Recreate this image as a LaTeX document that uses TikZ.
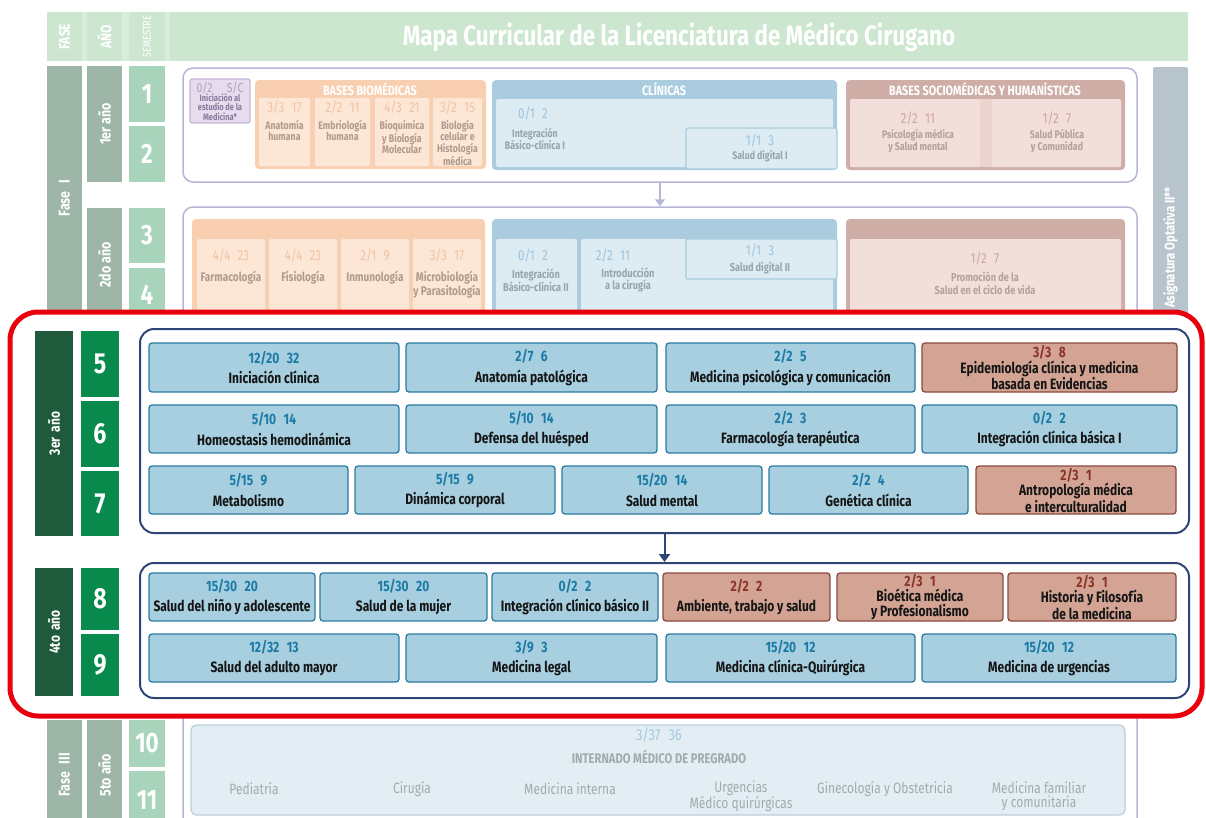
\documentclass[tikz,border=0pt]{standalone}
\usepackage{fontspec}
\setmainfont{Fira Sans}[FakeStretch=0.8]
\usetikzlibrary{arrows.meta}
\definecolor{hdrC}{HTML}{CCE6CF}
\definecolor{hdrL}{HTML}{D8EDDA}
\definecolor{faseC}{HTML}{9DB6A8}
\definecolor{semL}{HTML}{A7D4BA}
\definecolor{lav}{HTML}{B6B6D7}
\definecolor{oHd}{HTML}{F8D0B1}
\definecolor{oIn}{HTML}{FCE6D6}
\definecolor{oNum}{HTML}{F2C3A3}
\definecolor{oTxt}{HTML}{B09A8C}
\definecolor{cHd}{HTML}{AACCDE}
\definecolor{cIn}{HTML}{DDEBF3}
\definecolor{cNum}{HTML}{9DC4DC}
\definecolor{cTxt}{HTML}{95A4AE}
\definecolor{sHd}{HTML}{CEAEA7}
\definecolor{sMid}{HTML}{EDD3CE}
\definecolor{sIn}{HTML}{F2DEDA}
\definecolor{sNum}{HTML}{CEA79F}
\definecolor{sTxt}{HTML}{B5A09B}
\definecolor{pFill}{HTML}{E6DCEE}
\definecolor{pBord}{HTML}{C6B6D9}
\definecolor{pNum}{HTML}{AE9EC6}
\definecolor{pTxt}{HTML}{8A7A9C}
\definecolor{optC}{HTML}{B8C4CC}
\definecolor{redC}{HTML}{E8000C}
\definecolor{navy}{HTML}{2E4677}
\definecolor{dkG}{HTML}{1F5A3D}
\definecolor{semG}{HTML}{078A4C}
\definecolor{bFill}{HTML}{A7CFDF}
\definecolor{bBord}{HTML}{2B7CA0}
\definecolor{bNum}{HTML}{1B7BA6}
\definecolor{rFill}{HTML}{D3A494}
\definecolor{rBord}{HTML}{8C4A3F}
\definecolor{rNum}{HTML}{8A3328}
\definecolor{iFill}{HTML}{E2EEF3}
\definecolor{iBord}{HTML}{BACEDA}
\definecolor{iNum}{HTML}{A6CAE0}
\definecolor{iTxt}{HTML}{A2AAB0}
\definecolor{txt}{HTML}{151515}
\newcommand\bx[7]{\node[#2,minimum width={#5-#3},minimum height={#6-#4}] (#1) at ({(#3+#5)/2},{(#4+#6)/2}) {#7};}
\newcommand\vbx[7]{\node[#2,rotate=90,minimum width={#6-#4},minimum height={#5-#3}] (#1) at ({(#3+#5)/2},{(#4+#6)/2}) {#7};}
\newcommand\gp{\hspace{0.5em}}
\newcommand\nb[1]{\textcolor{bNum}{#1}}
\newcommand\nr[1]{\textcolor{rNum}{#1}}
\begin{document}
\begin{tikzpicture}[x=1pt,y=-1pt,
  hdrCol/.style={fill=hdrC,inner sep=0pt,text=white,font=\fontsize{15}{15}\selectfont\bfseries},
  hdrBand/.style={fill=hdrL,inner sep=0pt},
  faseBar/.style={fill=faseC,inner sep=0pt,text=white,font=\fontsize{15.5}{15.5}\selectfont\bfseries},
  semLt/.style={fill=semL,inner sep=0pt,text=white,font=\fontsize{28}{28}\selectfont\bfseries},
  blkL/.style={draw=lav,line width=1.5pt,rounded corners=10pt,inner sep=0pt},
  grp/.style={rounded corners=4pt,inner sep=0pt},
  sub/.style={rounded corners=2pt,inner sep=0pt},
  subB/.style={draw=cHd,fill=cIn,line width=1.2pt,rounded corners=2pt,inner sep=0pt},
  purp/.style={draw=pBord,fill=pFill,line width=1.2pt,rounded corners=2pt,inner sep=0pt},
  ghd/.style={inner sep=0pt,text=white,font=\fontsize{13.5}{13.5}\selectfont\bfseries},
  fnum/.style={inner sep=0pt,font=\fontsize{14.5}{14.5}\selectfont},
  ftxt/.style={inner sep=0pt,align=center,font=\fontsize{11}{11.5}\selectfont\bfseries},
  optBar/.style={fill=optC,rounded corners=2pt,inner sep=0pt,text=white,font=\fontsize{14}{14}\selectfont\bfseries},
  arrL/.style={draw=lav,line width=1.5pt,-{Triangle[width=10pt,length=7pt]}},
  intBox/.style={draw=iBord,fill=iFill,line width=1.2pt,rounded corners=6pt,inner sep=0pt},
  redFrame/.style={draw=redC,fill=white,line width=5pt,rounded corners=28pt,inner sep=0pt},
  dkBar/.style={fill=dkG,inner sep=0pt,text=white,font=\fontsize{15}{15}\selectfont\bfseries},
  semD/.style={fill=semG,inner sep=0pt,text=white,font=\fontsize{29}{29}\selectfont\bfseries},
  blkD/.style={draw=navy,line width=2pt,rounded corners=14pt,inner sep=0pt},
  arrD/.style={draw=navy,line width=2pt,-{Triangle[width=11pt,length=8pt]}},
  cb/.style={draw=bBord,fill=bFill,line width=1.3pt,rounded corners=3pt,inner sep=0pt,align=center,text=txt,font=\fontsize{15}{14.5}\selectfont\bfseries},
  cr/.style={cb,draw=rBord,fill=rFill}]
\useasboundingbox (0,0) rectangle (1206,817);
% ---------- header ----------
\bx{hBand}{hdrBand}{47}{12}{1188}{61}{}
\vbx{hFase}{hdrCol}{47}{12}{82}{61}{FASE}
\vbx{hAno}{hdrCol}{87}{12}{122}{61}{AÑO}
\vbx{hSem}{hdrCol,font=\fontsize{11.5}{11.5}\selectfont}{129}{12}{165}{61}{SEMESTRE}
\bx{hTitle}{hdrCol,font=\fontsize{28}{28}\selectfont\bfseries}{170}{12}{1188}{61}{Mapa Curricular de la Licenciatura de Médico Cirugano}
% ---------- left bars (faded) ----------
\vbx{fase1}{faseBar}{47}{66}{82}{330}{Fase\enspace I}
\vbx{ano1}{faseBar}{87}{66}{122}{182}{1er año}
\bx{s1}{semLt}{129}{66}{165}{122}{1}
\bx{s2}{semLt}{129}{126}{165}{182}{2}
\vbx{ano2}{faseBar}{87}{208}{122}{322}{2do año}
\bx{s3}{semLt}{129}{208}{165}{263}{3}
\bx{s4}{semLt}{129}{268}{165}{322}{4}
\vbx{opt}{optBar}{1153}{67}{1188}{428}{Asignatura Optativa II**}
% ---------- block 1 ----------
\bx{blk1}{blkL}{183}{68}{1137}{182}{}
\bx{pIni}{purp}{190}{79}{250}{123}{}
\node[fnum,text=pNum,font=\fontsize{13}{13}\selectfont] (pIniN) at (220,88) {0/2\hspace{1.1em}S/C};
\node[ftxt,text=pTxt,font=\fontsize{9.3}{9.5}\selectfont\bfseries] (pIniT) at (220,107) {Iniciación al\\estudio de la\\Medicina*};
\bx{gO1}{grp,fill=oHd}{255}{80}{486}{169}{}
\node[ghd] (gO1h) at (370,89) {BASES BIOMÉDICAS};
\bx{o1a}{sub,fill=oIn}{259}{98}{310}{166}{}
\bx{o1b}{sub,fill=oIn}{315}{98}{370}{166}{}
\bx{o1c}{sub,fill=oIn}{375}{98}{429}{166}{}
\bx{o1d}{sub,fill=oIn}{433}{98}{482}{166}{}
\node[fnum,text=oNum] (o1aN) at (284.5,107) {3/3\gp17};
\node[fnum,text=oNum] (o1bN) at (342.5,107) {2/2\gp11};
\node[fnum,text=oNum] (o1cN) at (402,107) {4/3\gp21};
\node[fnum,text=oNum] (o1dN) at (457.5,107) {3/2\gp15};
\node[ftxt,text=oTxt,anchor=north] (o1aT) at (284.5,120) {Anatomía\\humana};
\node[ftxt,text=oTxt,anchor=north] (o1bT) at (342.5,120) {Embriología\\humana};
\node[ftxt,text=oTxt,anchor=north] (o1cT) at (402,120) {Bioquímica\\y Biología\\Molecular};
\node[ftxt,text=oTxt,anchor=north] (o1dT) at (457.5,120) {Biología\\celular e\\Histología\\médica};
\bx{gC1}{grp,fill=cHd}{492}{80}{837}{170}{}
\node[ghd] (gC1h) at (664,89) {CLÍNICAS};
\bx{c1in}{sub,fill=cIn}{496}{99}{833}{167}{}
\bx{c1sd}{subB}{686}{128}{837}{169}{}
\node[fnum,text=cNum] (c1aN) at (533,113) {0/1\gp2};
\node[ftxt,text=cTxt] (c1aT) at (535,139) {Integración\\Básico-clínica I};
\node[fnum,text=cNum] (c1bN) at (760,140) {1/1\gp3};
\node[ftxt,text=cTxt] (c1bT) at (760,156) {Salud digital I};
\bx{gS1}{grp,fill=sHd}{846}{80}{1125}{170}{}
\node[ghd] (gS1h) at (985,89) {BASES SOCIOMÉDICAS Y HUMANÍSTICAS};
\bx{s1in}{sub,fill=sMid}{850}{99}{1121}{167}{}
\bx{s1a}{sub,fill=sIn}{850}{99}{980}{167}{}
\bx{s1b}{sub,fill=sIn}{992}{99}{1121}{167}{}
\node[fnum,text=sNum] (s1aN) at (918,118) {2/2\gp11};
\node[ftxt,text=sTxt] (s1aT) at (918,141) {Psicología médica\\y Salud mental};
\node[fnum,text=sNum] (s1bN) at (1057,118) {1/2\gp7};
\node[ftxt,text=sTxt] (s1bT) at (1057,141) {Salud Pública\\y Comunidad};
% ---------- block 2 ----------
\bx{blk2}{blkL}{183}{207}{1137}{340}{}
\draw[arrL] (blk1.south) -- (blk2.north);
\bx{gO2}{grp,fill=oHd}{192}{219}{485}{340}{}
\bx{o2a}{sub,fill=oIn}{197}{239}{265}{340}{}
\bx{o2b}{sub,fill=oIn}{269}{239}{337}{340}{}
\bx{o2c}{sub,fill=oIn}{341}{239}{409}{340}{}
\bx{o2d}{sub,fill=oIn}{413}{239}{481}{340}{}
\node[fnum,text=oNum] (o2aN) at (231,255) {4/4\gp23};
\node[fnum,text=oNum] (o2bN) at (303,255) {4/4\gp23};
\node[fnum,text=oNum] (o2cN) at (375,255) {2/1\gp9};
\node[fnum,text=oNum] (o2dN) at (447,255) {3/3\gp17};
\node[ftxt,text=oTxt,anchor=north,font=\fontsize{12.5}{13}\selectfont\bfseries] (o2aT) at (231,271) {Farmacología};
\node[ftxt,text=oTxt,anchor=north,font=\fontsize{12.5}{13}\selectfont\bfseries] (o2bT) at (303,271) {Fisiología};
\node[ftxt,text=oTxt,anchor=north,font=\fontsize{12.5}{13}\selectfont\bfseries] (o2cT) at (375,271) {Inmunología};
\node[ftxt,text=oTxt,anchor=north,font=\fontsize{12.5}{13}\selectfont\bfseries] (o2dT) at (447,271) {Microbiología\\y Parasitología};
\bx{gC2}{grp,fill=cHd}{492}{219}{837}{340}{}
\bx{c2a}{sub,fill=cIn}{496}{239}{577}{340}{}
\bx{c2b}{sub,fill=cIn}{581}{239}{833}{340}{}
\bx{c2sd}{subB}{686}{239}{837}{279}{}
\node[fnum,text=cNum] (c2aN) at (533,255) {0/1\gp2};
\node[ftxt,text=cTxt,font=\fontsize{11.5}{12}\selectfont\bfseries] (c2aT) at (536,280) {Integración\\Básico-clínica II};
\node[fnum,text=cNum] (c2bN) at (613,255) {2/2\gp11};
\node[ftxt,text=cTxt,font=\fontsize{11.5}{12}\selectfont\bfseries] (c2bT) at (628,280) {Introducción\\a la cirugía};
\node[fnum,text=cNum] (c2cN) at (760,250) {1/1\gp3};
\node[ftxt,text=cTxt,font=\fontsize{11.5}{12}\selectfont\bfseries] (c2cT) at (760,268) {Salud digital II};
\bx{gS2}{grp,fill=sHd}{846}{219}{1125}{340}{}
\bx{s2in}{sub,fill=sIn}{850}{239}{1121}{340}{}
\node[fnum,text=sNum] (s2aN) at (985,258) {1/2\gp7};
\node[ftxt,text=sTxt,font=\fontsize{11.5}{13}\selectfont\bfseries] (s2aT) at (985,283) {Promoción de la\\Salud en el ciclo de vida};
% ---------- bottom (faded) ----------
\bx{blk5}{blkL}{183}{690}{1137}{880}{}
\vbx{fase3}{faseBar}{47}{720}{82}{830}{Fase\enspace III}
\vbx{ano5}{faseBar}{87}{720}{122}{830}{5to año}
\bx{s10}{semLt}{129}{720}{165}{767}{10}
\bx{s11}{semLt}{129}{771}{165}{829}{11}
\bx{intb}{intBox}{191}{725}{1125}{815}{}
\node[fnum,text=iNum,font=\fontsize{16}{16}\selectfont] (intN) at (659,735) {3/37\gp36};
\node[ftxt,text=iTxt,font=\fontsize{14}{14}\selectfont\bfseries] (intT) at (659,757) {INTERNADO MÉDICO DE PREGRADO};
\node[ftxt,text=iTxt,font=\fontsize{15}{14}\selectfont] (r1) at (254,789) {Pediatría};
\node[ftxt,text=iTxt,font=\fontsize{15}{14}\selectfont] (r2) at (412,789) {Cirugía};
\node[ftxt,text=iTxt,font=\fontsize{15}{14}\selectfont] (r3) at (570,789) {Medicina interna};
\node[ftxt,text=iTxt,font=\fontsize{15}{14}\selectfont] (r4) at (741,796) {Urgencias\\Médico quirúrgicas};
\node[ftxt,text=iTxt,font=\fontsize{15}{14}\selectfont] (r5) at (885,789) {Ginecología y Obstetricia};
\node[ftxt,text=iTxt,font=\fontsize{15}{14}\selectfont] (r6) at (1039,796) {Medicina familiar\\y comunitaria};
% ---------- highlighted frame ----------
\bx{frame}{redFrame}{10}{312}{1202}{716}{}
\vbx{y3}{dkBar}{35}{331}{73}{536}{3er\,\,año}
\bx{s5}{semD}{81}{331}{119}{397}{5}
\bx{s6}{semD}{81}{401}{119}{467}{6}
\bx{s7}{semD}{81}{471}{119}{536}{7}
\vbx{y4}{dkBar}{35}{568}{73}{696}{4to\,\,año}
\bx{s8}{semD}{81}{568}{119}{630}{8}
\bx{s9}{semD}{81}{634}{119}{696}{9}
\bx{blk3}{blkD}{140}{329}{1189}{533}{}
\bx{blk4}{blkD}{140}{563}{1189}{698}{}
\draw[arrD] (blk3.south) -- (blk4.north);
% block 3
\bx{b5a}{cb}{149}{343}{399}{392}{\nb{12/20\gp32}\\[6pt]Iniciación clínica}
\bx{b5b}{cb}{406}{343}{657}{392}{\nb{2/7\gp6}\\[6pt]Anatomía patológica}
\bx{b5c}{cb}{666}{343}{915}{392}{\nb{2/2\gp5}\\[6pt]Medicina psicológica y comunicación}
\bx{b5d}{cr}{922}{343}{1177}{392}{\nr{3/3\gp8}\\[1pt]Epidemiología clínica y medicina\\basada en Evidencias}
\bx{b6a}{cb}{149}{405}{399}{453}{\nb{5/10\gp14}\\[6pt]Homeostasis hemodinámica}
\bx{b6b}{cb}{406}{405}{657}{453}{\nb{5/10\gp14}\\[6pt]Defensa del huésped}
\bx{b6c}{cb}{666}{405}{915}{453}{\nb{2/2\gp3}\\[6pt]Farmacología terapéutica}
\bx{b6d}{cb}{922}{405}{1177}{453}{\nb{0/2\gp2}\\[6pt]Integración clínica básica I}
\bx{b7a}{cb}{149}{466}{348}{514}{\nb{5/15\gp9}\\[6pt]Metabolismo}
\bx{b7b}{cb}{355}{466}{555}{514}{\nb{5/15\gp9}\\[6pt]Dinámica corporal}
\bx{b7c}{cb}{562}{466}{762}{514}{\nb{15/20\gp14}\\[6pt]Salud mental}
\bx{b7d}{cb}{769}{466}{968}{514}{\nb{2/2\gp4}\\[6pt]Genética clínica}
\bx{b7e}{cr}{976}{466}{1176}{514}{\nr{2/3\gp1}\\[1pt]Antropología médica\\e interculturalidad}
% block 4
\bx{b8a}{cb}{149}{573}{315}{621}{\nb{15/30\gp20}\\[6pt]Salud del niño y adolescente}
\bx{b8b}{cb}{320}{573}{487}{621}{\nb{15/30\gp20}\\[6pt]Salud de la mujer}
\bx{b8c}{cb}{492}{573}{658}{621}{\nb{0/2\gp2}\\[6pt]Integración clínico básico II}
\bx{b8d}{cr}{663}{573}{830}{621}{\nr{2/2\gp2}\\[6pt]Ambiente, trabajo y salud}
\bx{b8e}{cr}{837}{573}{1003}{621}{\nr{2/3\gp1}\\[1pt]Bioética médica\\y Profesionalismo}
\bx{b8f}{cr}{1008}{573}{1176}{621}{\nr{2/3\gp1}\\[1pt]Historia y Filosofía\\de la medicina}
\bx{b9a}{cb}{149}{634}{399}{682}{\nb{12/32\gp13}\\[6pt]Salud del adulto mayor}
\bx{b9b}{cb}{406}{634}{657}{682}{\nb{3/9\gp3}\\[6pt]Medicina legal}
\bx{b9c}{cb}{666}{634}{915}{682}{\nb{15/20\gp12}\\[6pt]Medicina clínica-Quirúrgica}
\bx{b9d}{cb}{922}{634}{1176}{682}{\nb{15/20\gp12}\\[6pt]Medicina de urgencias}
\end{tikzpicture}
\end{document}
